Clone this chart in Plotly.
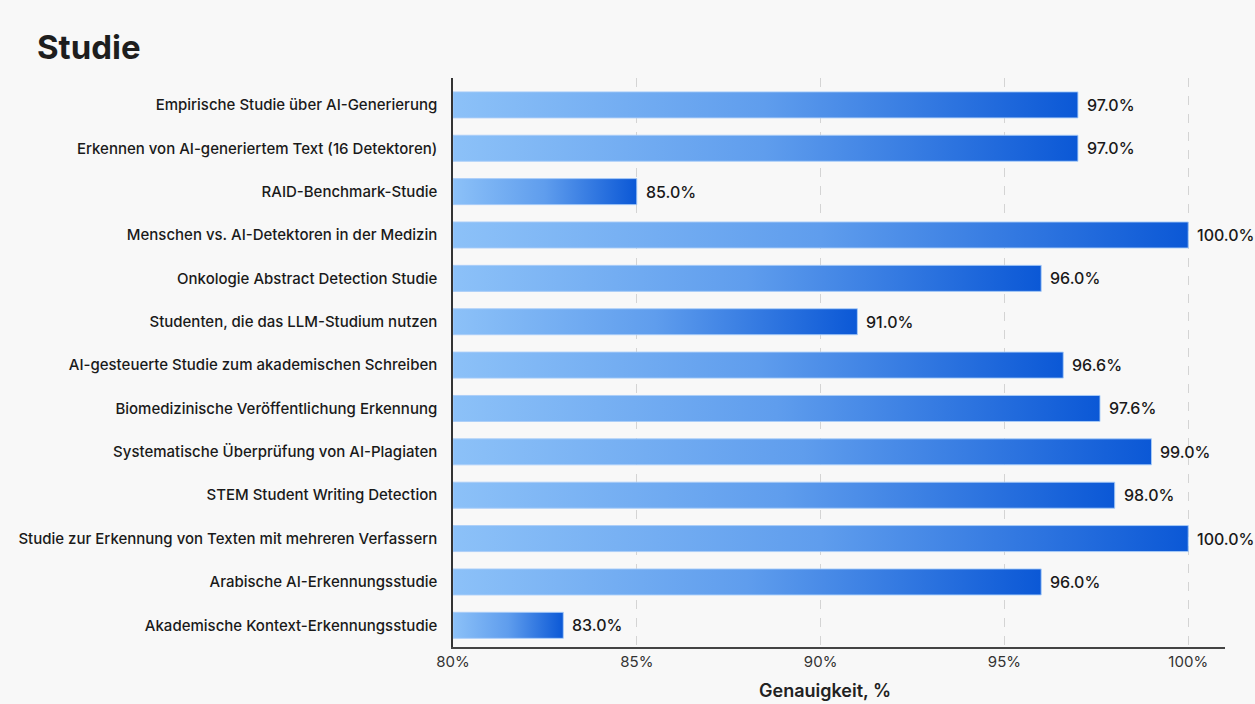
import plotly.graph_objects as go

categories = [
    "Empirische Studie über AI-Generierung",
    "Erkennen von AI-generiertem Text (16 Detektoren)",
    "RAID-Benchmark-Studie",
    "Menschen vs. AI-Detektoren in der Medizin",
    "Onkologie Abstract Detection Studie",
    "Studenten, die das LLM-Studium nutzen",
    "AI-gesteuerte Studie zum akademischen Schreiben",
    "Biomedizinische Veröffentlichung Erkennung",
    "Systematische Überprüfung von AI-Plagiaten",
    "STEM Student Writing Detection",
    "Studie zur Erkennung von Texten mit mehreren Verfassern",
    "Arabische AI-Erkennungsstudie",
    "Akademische Kontext-Erkennungsstudie",
]
values = [97.0, 97.0, 85.0, 100.0, 96.0, 91.0, 96.6, 97.6, 99.0, 98.0, 100.0, 96.0, 83.0]
x_ticks = [80, 85, 90, 95, 100]
x_tick_labels = ["80%", "85%", "90%", "95%", "100%"]
x_title = "Genauigkeit, %"

BASE = 80
HALF = 0.3
FONT = "Inter, Roboto, sans-serif"

fig = go.Figure()
for i, v in enumerate(values):
    fig.add_trace(go.Scatter(
        x=[BASE, v, v, BASE, BASE],
        y=[i - HALF, i - HALF, i + HALF, i + HALF, i - HALF],
        mode="lines",
        fill="toself",
        fillgradient=dict(type="horizontal",
                          colorscale=[[0, "#8cc1f8"], [0.5, "#5f9ded"], [1, "#0b58d6"]]),
        line=dict(color="rgba(170,205,248,0.9)", width=1),
        hoverinfo="skip",
        showlegend=False,
    ))
    fig.add_annotation(
        x=v, y=i, text=f"{v:.1f}%", showarrow=False,
        xanchor="left", yanchor="middle", xshift=7,
        font=dict(family=FONT, size=16, color="#1a1a1a", weight=500),
    )

fig.add_annotation(
    x=0.482, y=-0.0756, xref="paper", yref="paper", text=x_title, showarrow=False,
    xanchor="center", yanchor="middle",
    font=dict(family=FONT, size=18, color="#222", weight=600),
)

fig.update_layout(
    width=1255, height=704,
    margin=dict(l=453, r=30, t=78, b=57),
    paper_bgcolor="#f8f8f8",
    plot_bgcolor="#f8f8f8",
    font=dict(family=FONT, color="#222"),
    title=dict(text="<b>Studie</b>", x=37 / 1255, xanchor="left", xref="container",
               y=1 - 47 / 704, yanchor="middle", yref="container",
               font=dict(family=FONT, size=33, color="#1e1e1e")),
    xaxis=dict(
        range=[80, 101], tickvals=x_ticks, ticktext=x_tick_labels,
        showgrid=True, gridcolor="#d4d4d4", griddash="dash", gridwidth=1,
        showline=True, linecolor="#444", linewidth=1.5,
        zeroline=False, ticks="", tickfont=dict(size=15, color="#333"),
    ),
    yaxis=dict(
        range=[12.5, -0.62], tickvals=list(range(len(categories))), ticktext=categories,
        showgrid=False, showline=True, linecolor="#333", linewidth=1.5,
        zeroline=False, ticks="", ticklabelstandoff=11,
        tickfont=dict(size=15, color="#1a1a1a", weight=500),
    ),
)

fig.write_html("out.html")
